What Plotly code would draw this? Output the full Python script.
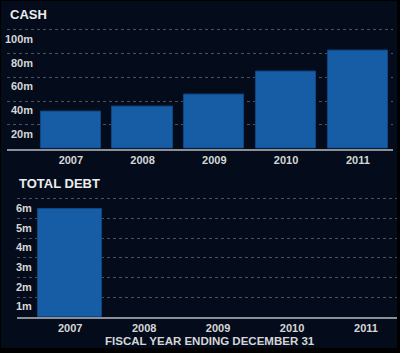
import plotly.graph_objects as go

years = ["2007", "2008", "2009", "2010", "2011"]
cash = [31, 35, 45.5, 64.5, 82.5]          # millions
debt = [5.5, 0, 0, 0, 0]                   # millions
cash_ticks = [20, 40, 60, 80, 100]
cash_tick_labels = ["20m", "40m", "60m", "80m", "100m"]
debt_ticks = [1, 2, 3, 4, 5, 6]
debt_tick_labels = ["1m", "2m", "3m", "4m", "5m", "6m"]

W, H = 400, 353
BG = "#040c1c"
BAR = "#165da6"
BAR_EDGE = "#0e4685"
TXT = "#d6d6d6"
GRID = "#4a5260"
FONT = "Liberation Sans, Arial, sans-serif"

def px(x):
    return x / W

def py(y):
    return 1 - y / H

fig = go.Figure()
fig.add_trace(go.Bar(x=list(range(5)), y=cash, xaxis="x", yaxis="y",
                     marker=dict(color=BAR, line=dict(color=BAR_EDGE, width=1)),
                     width=0.84, hoverinfo="skip"))
fig.add_trace(go.Bar(x=list(range(5)), y=debt, xaxis="x2", yaxis="y2",
                     marker=dict(color=BAR, line=dict(color=BAR_EDGE,
                                                      width=[1 if v > 0 else 0 for v in debt])),
                     width=0.865, hoverinfo="skip"))

tickfont = dict(family=FONT, size=11, color=TXT)
common_x = dict(tickmode="array", tickvals=list(range(5)),
                ticktext=["<b>%s</b>" % y for y in years],
                showgrid=False, zeroline=False, showline=True, linecolor="#8a8f98",
                linewidth=2, ticks="", tickfont=tickfont, fixedrange=True)
common_y = dict(tickmode="array", showticklabels=False, showgrid=True,
                gridcolor=GRID, griddash="dot", gridwidth=1, zeroline=False,
                showline=False, ticks="", fixedrange=True)

annotations = []
for v, t in zip(cash_ticks, cash_tick_labels):
    annotations.append(dict(x=px(35), xref="paper", y=v, yref="y", text="<b>%s</b>" % t,
                            xanchor="right", yanchor="top", showarrow=False,
                            font=dict(family=FONT, size=11, color=TXT), yshift=-1))
for v, t in zip(debt_ticks, debt_tick_labels):
    annotations.append(dict(x=px(34), xref="paper", y=v, yref="y2", text="<b>%s</b>" % t,
                            xanchor="right", yanchor="top", showarrow=False,
                            font=dict(family=FONT, size=11, color=TXT), yshift=-1))
annotations.append(dict(x=px(8), y=py(15), xref="paper", yref="paper", text="<b>CASH</b>",
                        xanchor="left", yanchor="middle", showarrow=False,
                        font=dict(family=FONT, size=13, color="#ececec")))
annotations.append(dict(x=px(17), y=py(183), xref="paper", yref="paper", text="<b>TOTAL DEBT</b>",
                        xanchor="left", yanchor="middle", showarrow=False,
                        font=dict(family=FONT, size=13, color="#ececec")))
annotations.append(dict(x=px(210), y=py(341), xref="paper", yref="paper",
                        text="<b>FISCAL YEAR ENDING DECEMBER 31</b>",
                        xanchor="center", yanchor="middle", showarrow=False,
                        font=dict(family=FONT, size=11.5, color=TXT)))

shapes = [
    dict(type="rect", xref="paper", yref="paper", x0=0, x1=1, y0=py(1), y1=1,
         fillcolor="#000000", line=dict(width=0), layer="above"),
    dict(type="rect", xref="paper", yref="paper", x0=0, x1=px(1), y0=0, y1=1,
         fillcolor="#000000", line=dict(width=0), layer="above"),
    dict(type="rect", xref="paper", yref="paper", x0=px(397), x1=1, y0=0, y1=1,
         fillcolor="#000000", line=dict(width=0), layer="above"),
    dict(type="rect", xref="paper", yref="paper", x0=0, x1=1, y0=0, y1=py(348),
         fillcolor="#000000", line=dict(width=0), layer="above"),
]

fig.update_layout(
    width=W, height=H, margin=dict(l=0, r=0, t=0, b=0),
    paper_bgcolor=BG, plot_bgcolor=BG, showlegend=False, bargap=0,
    xaxis=dict(common_x, domain=[px(7), px(393)], range=[-0.89, 4.49], anchor="y"),
    yaxis=dict(common_y, domain=[py(148.5), py(27.6)], range=[0, 102],
               tickvals=cash_ticks, anchor="x"),
    xaxis2=dict(common_x, domain=[px(17), px(397)], range=[-0.72, 4.42], anchor="y2"),
    yaxis2=dict(common_y, domain=[py(317), py(196)], range=[0, 6.15],
                tickvals=debt_ticks, anchor="x2"),
    annotations=annotations, shapes=shapes,
)

fig.write_html("out.html")
